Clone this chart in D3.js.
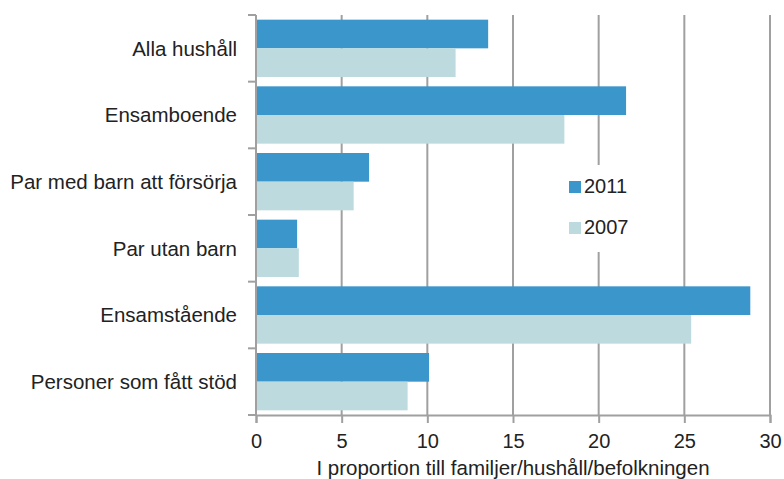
<!DOCTYPE html>
<html>
<head>
<meta charset="utf-8">
<script src="https://cdn.jsdelivr.net/npm/d3@7"></script>
<style>
  body { margin: 0; background: #fff; }
  text { font-family: "Liberation Sans", Arial, sans-serif; fill: #222; }
</style>
</head>
<body>
<div id="chart"></div>
<script>
// Data
const categories = ['Alla hushåll', 'Ensamboende', 'Par med barn att försörja', 'Par utan barn', 'Ensamstående', 'Personer som fått stöd'];
const series = ['2011', '2007'];
const values2011 = [13.55, 21.6, 6.6, 2.4, 28.85, 10.1];
const values2007 = [11.65, 18.0, 5.7, 2.5, 25.4, 8.85];
const xTicks = [0, 5, 10, 15, 20, 25, 30];

const colors = { '2011': '#3a96cb', '2007': '#bddbdf' };
const gridColor = '#a0a0a0';

const width = 784, height = 479;
const margin = { top: 15, right: 14, bottom: 64, left: 256 };
const innerW = width - margin.left - margin.right;
const innerH = height - margin.top - margin.bottom;

const svg = d3.select('#chart').append('svg')
  .attr('width', width)
  .attr('height', height);

const g = svg.append('g')
  .attr('transform', `translate(${margin.left},${margin.top})`);

const x = d3.scaleLinear().domain([0, 30]).range([0, innerW]);
const y = d3.scaleBand().domain(categories).range([0, innerH]).paddingInner(0.14).paddingOuter(0.07);
const ySub = d3.scaleBand().domain(series).range([0, y.bandwidth()]);

// vertical gridlines
g.selectAll('.grid')
  .data(xTicks.slice(1))
  .enter().append('line')
  .attr('x1', d => x(d)).attr('x2', d => x(d))
  .attr('y1', 0).attr('y2', innerH)
  .attr('stroke', gridColor).attr('stroke-width', 2);

// bars
const rows = categories.map((c, i) => ({ cat: c, vals: [
  { s: '2011', v: values2011[i] },
  { s: '2007', v: values2007[i] }
] }));

const groups = g.selectAll('.grp')
  .data(rows)
  .enter().append('g')
  .attr('transform', d => `translate(0,${y(d.cat)})`);

groups.selectAll('rect')
  .data(d => d.vals)
  .enter().append('rect')
  .attr('x', x(0) + 1)
  .attr('y', d => ySub(d.s))
  .attr('width', d => x(d.v) - x(0) - 1)
  .attr('height', ySub.bandwidth())
  .attr('fill', d => colors[d.s]);

// x axis
const xAxis = g.append('g')
  .attr('transform', `translate(0,${innerH})`)
  .call(d3.axisBottom(x).tickValues(xTicks).tickSize(8).tickPadding(11));
xAxis.select('.domain').attr('stroke', gridColor).attr('stroke-width', 2);
xAxis.selectAll('.tick line').attr('stroke', gridColor).attr('stroke-width', 2);
xAxis.selectAll('.tick text')
  .style('font-size', '20px')
  .style('font-family', '"Liberation Sans", Arial, sans-serif')
  .attr('fill', '#222');

// y axis with category boundary ticks
const yAxisG = g.append('g');
yAxisG.append('line')
  .attr('x1', 0).attr('x2', 0).attr('y1', 0).attr('y2', innerH)
  .attr('stroke', gridColor).attr('stroke-width', 2);
const step = innerH / categories.length;
yAxisG.selectAll('.ytick')
  .data(d3.range(categories.length + 1))
  .enter().append('line')
  .attr('x1', -8).attr('x2', 0)
  .attr('y1', d => d * step).attr('y2', d => d * step)
  .attr('stroke', gridColor).attr('stroke-width', 2);
yAxisG.selectAll('.ylabel')
  .data(categories)
  .enter().append('text')
  .attr('x', -19)
  .attr('y', d => y(d) + y.bandwidth() / 2)
  .attr('dy', '0.35em')
  .attr('text-anchor', 'end')
  .style('font-size', '20.5px')
  .text(d => d);

// x axis title
svg.append('text')
  .attr('x', 513)
  .attr('y', 475)
  .attr('text-anchor', 'middle')
  .style('font-size', '20.5px')
  .text('I proportion till familjer/hushåll/befolkningen');

// legend
const legend = svg.append('g').attr('transform', 'translate(562,165)');
legend.append('rect')
  .attr('x', 0).attr('y', 0).attr('width', 90).attr('height', 87)
  .attr('fill', '#fff');
series.forEach((s, i) => {
  const row = legend.append('g').attr('transform', `translate(7,${16 + i * 41})`);
  row.append('rect').attr('width', 12).attr('height', 12).attr('fill', colors[s]);
  row.append('text')
    .attr('x', 15).attr('y', 12)
    .style('font-size', '20px')
    .text(s);
});
</script>
</body>
</html>
